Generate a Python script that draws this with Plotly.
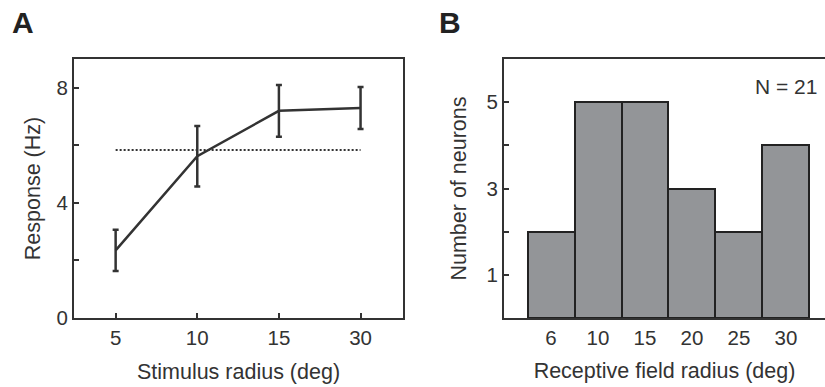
import plotly.graph_objects as go

# ---- Data ----
stim_radius = ["5", "10", "15", "30"]
response = [2.35, 5.62, 7.2, 7.3]
response_err = [0.72, 1.05, 0.9, 0.73]
baseline = 5.84
sig_marker_y = 8.45

rf_radius = ["6", "10", "15", "20", "25", "30"]
neuron_counts = [2, 5, 5, 3, 2, 4]
n_total = 21

dark = "#333333"
font_family = "Arial, 'Liberation Sans', sans-serif"

fig = go.Figure()

# Panel A
fig.add_trace(go.Scatter(
    x=stim_radius, y=response, mode="lines",
    line=dict(color=dark, width=2.5),
    error_y=dict(type="data", array=response_err, color=dark, thickness=2.5, width=3),
    xaxis="x", yaxis="y", showlegend=False))
fig.add_trace(go.Scatter(
    x=[stim_radius[0], stim_radius[-1]], y=[baseline, baseline],
    mode="lines", line=dict(color=dark, width=2, dash="2px,2px"),
    xaxis="x", yaxis="y", showlegend=False, hoverinfo="skip"))

# Panel B
fig.add_trace(go.Bar(
    x=rf_radius, y=neuron_counts,
    marker=dict(color="#939598", line=dict(color="#222222", width=2)),
    xaxis="x2", yaxis="y2", showlegend=False))

axis_common = dict(
    showgrid=False, zeroline=False, showline=True, linecolor=dark, linewidth=2,
    tickfont=dict(size=20.5, color=dark, family=font_family),
    tickcolor=dark, tickwidth=2, ticklen=5, automargin=False,
)

fig.update_layout(
    width=825, height=387,
    margin=dict(l=0, r=0, t=0, b=0, autoexpand=False),
    paper_bgcolor="white", plot_bgcolor="white",
    font=dict(family=font_family, color=dark),
    bargap=0,
    xaxis=dict(axis_common, domain=[74/825, 403/825], anchor="y", type="category",
               categoryorder="array", categoryarray=stim_radius,
               range=[-0.51, 3.52], ticks="inside", mirror=True,
               title=dict(text="Stimulus radius (deg)", font=dict(size=21.5, color=dark), standoff=16)),
    yaxis=dict(axis_common, domain=[1-318/387, 1-59/387], anchor="x",
               range=[0, 9], tickvals=[0, 2, 4, 6, 8], ticktext=["0", "", "4", "", "8"],
               ticks="inside", mirror=True,
               title=dict(text="Response (Hz)", font=dict(size=21.5, color=dark), standoff=10)),
    xaxis2=dict(axis_common, domain=[504/825, 1.0], anchor="y2", type="category",
                categoryorder="array", categoryarray=rf_radius,
                range=[-1.0, 5.83], ticks="", mirror=True,
                title=dict(text="Receptive field radius (deg)", font=dict(size=21.5, color=dark), standoff=15)),
    yaxis2=dict(axis_common, domain=[1-318/387, 1-59/387], anchor="x2",
                range=[0, 6], tickvals=[1, 2, 3, 4, 5], ticktext=["1", "", "3", "", "5"],
                ticks="inside", mirror=False,
                title=dict(text="Number of neurons", font=dict(size=21.5, color=dark), standoff=14)),
    annotations=[
        dict(text="<b>A</b>", x=10/825, y=1-4/387, xref="paper", yref="paper",
             xanchor="left", yanchor="top", showarrow=False, font=dict(size=30, color="#222")),
        dict(text="<b>B</b>", x=437/825, y=1-4/387, xref="paper", yref="paper",
             xanchor="left", yanchor="top", showarrow=False, font=dict(size=30, color="#222")),
        dict(text="*", x="15", y=sig_marker_y, xref="x", yref="y",
             showarrow=False, font=dict(size=26, color=dark)),
        dict(text=f"N = {n_total}", x=819/825, y=1-86/387, xref="paper", yref="paper",
             xanchor="right", yanchor="middle", showarrow=False, font=dict(size=21, color=dark)),
    ],
)

fig.write_html("out.html", config={"displayModeBar": False},
               post_script="document.body.style.margin='0';document.body.style.overflow='hidden';")
